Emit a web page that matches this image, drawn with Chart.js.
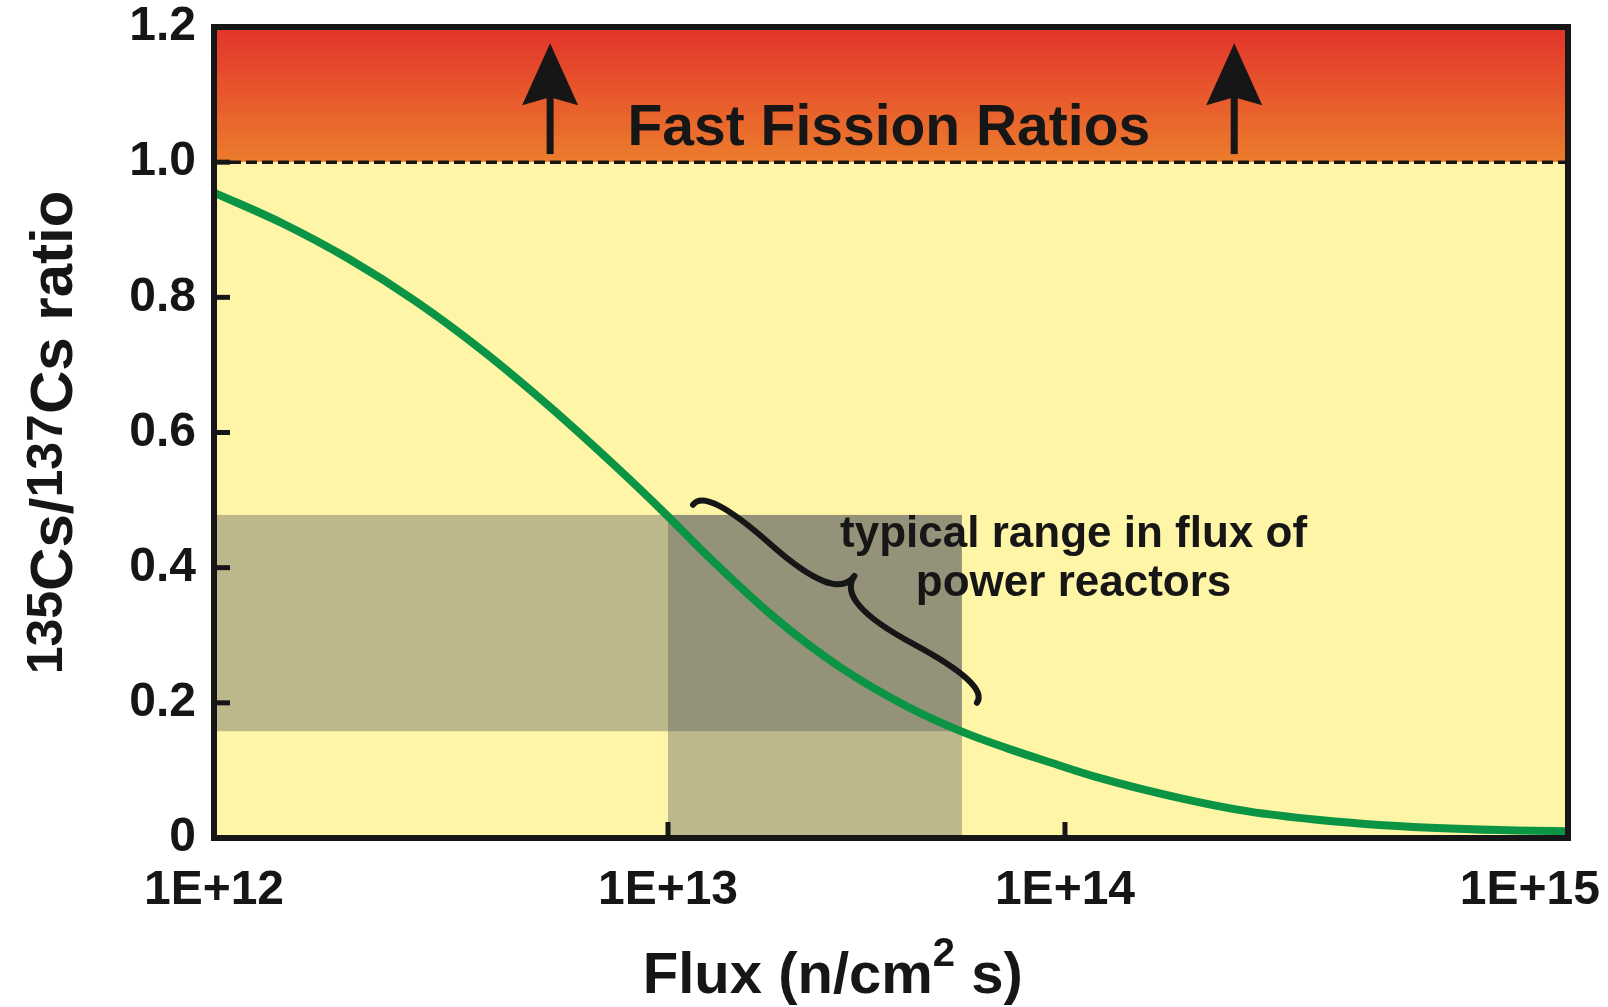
<!DOCTYPE html>
<html>
<head>
<meta charset="utf-8">
<title>135Cs/137Cs ratio vs flux</title>
<script src="https://cdn.jsdelivr.net/npm/chart.js@4.4.1/dist/chart.umd.min.js"></script>
<style>
  html, body { margin: 0; padding: 0; background: #fff; }
  canvas { display: block; }
</style>
</head>
<body>
<canvas id="fluxChart" width="1608" height="1007"></canvas>
<script>
// neutron flux (n/cm2 s) and the 135Cs/137Cs ratio along the curve
const flux = [
  1.0e12, 1.41e12, 1.98e12, 2.77e12, 3.89e12, 5.45e12, 7.64e12,
  1.0e13, 1.25e13, 1.84e13, 2.71e13, 3.99e13, 5.52e13, 7.13e13, 9.16e13,
  1.17e14, 1.72e14, 2.33e14, 3.17e14, 4.29e14, 5.82e14, 7.91e14, 1.0e15
];
const csRatio = [
  0.955, 0.910, 0.857, 0.795, 0.722, 0.640, 0.551,
  0.476, 0.419, 0.328, 0.253, 0.195, 0.157, 0.133, 0.112,
  0.089, 0.058, 0.039, 0.027, 0.019, 0.014, 0.011, 0.010
];

const fluxTicks = [1e12, 1e13, 1e14, 1e15];
const fluxTickLabels = ["1E+12", "1E+13", "1E+14", "1E+15"];
const ratioTicks = [0, 0.2, 0.4, 0.6, 0.8, 1.0, 1.2];

// flux range of power reactors and the ratios it gives
const reactorFlux = [1e13, 5.5e13];
const reactorRatio = [0.158, 0.478];
const fastFissionRatio = 1.0;

// annotation anchors (flux, ratio)
const arrowFlux = [5.5e12, 2.17e14];
const braceFlux = [1.156e13, 6.0e13];
const braceRatio = [0.493, 0.200];

// share of the axis width taken by each decade boundary
const decadeStops = [0, 0.3353, 0.6285, 1];

const FONT = '"Liberation Sans", Arial, sans-serif';
const INK = "#161616";

// log axis where each decade can have its own width
class WarpedLogScale extends Chart.LogarithmicScale {
  _frac(value) {
    const d = Math.log10(value) - Math.log10(this.min);
    const i = Math.min(Math.max(Math.floor(d), 0), decadeStops.length - 2);
    return decadeStops[i] + (d - i) * (decadeStops[i + 1] - decadeStops[i]);
  }
  getPixelForValue(value) {
    return this.left + this._frac(value) * this.width;
  }
  getValueForPixel(pixel) {
    const f = (pixel - this.left) / this.width;
    let i = 0;
    while (i < decadeStops.length - 2 && f > decadeStops[i + 1]) i++;
    const d = i + (f - decadeStops[i]) / (decadeStops[i + 1] - decadeStops[i]);
    return this.min * Math.pow(10, d);
  }
}
WarpedLogScale.id = "warpedLog";
WarpedLogScale.defaults = Chart.LogarithmicScale.defaults;
Chart.register(WarpedLogScale);

// text with superscript pieces, e.g. 135Cs or cm2
function richText(ctx, parts, x, y, size, supSize, rise) {
  const widths = parts.map(p => {
    ctx.font = `bold ${p.sup ? supSize : size}px ${FONT}`;
    return ctx.measureText(p.t).width;
  });
  let cx = x - widths.reduce((s, w) => s + w, 0) / 2;
  ctx.textAlign = "left";
  ctx.textBaseline = "alphabetic";
  parts.forEach((p, i) => {
    ctx.font = `bold ${p.sup ? supSize : size}px ${FONT}`;
    ctx.fillText(p.t, cx, p.sup ? y - rise : y);
    cx += widths[i];
  });
}

// curly brace from (x1,y1) to (x2,y2), tip pushed out by w
function drawBrace(ctx, x1, y1, x2, y2, w, q) {
  let dx = x1 - x2, dy = y1 - y2;
  const len = Math.hypot(dx, dy);
  dx /= len; dy /= len;
  const qx1 = x1 + q * w * dy, qy1 = y1 - q * w * dx;
  const qx2 = (x1 - 0.25 * len * dx) + (1 - q) * w * dy, qy2 = (y1 - 0.25 * len * dy) - (1 - q) * w * dx;
  const tx = (x1 - 0.5 * len * dx) + w * dy, ty = (y1 - 0.5 * len * dy) - w * dx;
  const qx3 = x2 + q * w * dy, qy3 = y2 - q * w * dx;
  const qx4 = (x1 - 0.75 * len * dx) + (1 - q) * w * dy, qy4 = (y1 - 0.75 * len * dy) - (1 - q) * w * dx;
  ctx.beginPath();
  ctx.moveTo(x1, y1);
  ctx.quadraticCurveTo(qx1, qy1, qx2, qy2);
  ctx.quadraticCurveTo(2 * qx2 - qx1, 2 * qy2 - qy1, tx, ty);
  ctx.moveTo(x2, y2);
  ctx.quadraticCurveTo(qx3, qy3, qx4, qy4);
  ctx.quadraticCurveTo(2 * qx4 - qx3, 2 * qy4 - qy3, tx, ty);
  ctx.stroke();
}

function drawArrow(ctx, px, baseY, tipY) {
  ctx.beginPath();
  ctx.moveTo(px, baseY);
  ctx.lineTo(px, tipY + 50);
  ctx.lineWidth = 7;
  ctx.stroke();
  ctx.beginPath();
  ctx.moveTo(px, tipY);
  ctx.lineTo(px + 28, tipY + 62);
  ctx.lineTo(px, tipY + 54);
  ctx.lineTo(px - 28, tipY + 62);
  ctx.closePath();
  ctx.fill();
}

const decorations = {
  id: "decorations",
  beforeDatasetsDraw(chart) {
    const { ctx, chartArea: a, scales: { x, y } } = chart;
    const y1 = y.getPixelForValue(fastFissionRatio);
    ctx.save();
    const g = ctx.createLinearGradient(0, a.top, 0, y1);
    g.addColorStop(0, "#e2332b");
    g.addColorStop(1, "#ec7d2d");
    ctx.fillStyle = g;
    ctx.fillRect(a.left, a.top, a.width, y1 - a.top);
    ctx.fillStyle = "#fff5a7";
    ctx.fillRect(a.left, y1, a.width, a.bottom - y1);

    // reactor flux bands, darker where they cross
    const fx0 = x.getPixelForValue(reactorFlux[0]);
    const fx1 = x.getPixelForValue(reactorFlux[1]);
    const ry0 = y.getPixelForValue(reactorRatio[0]);
    const ry1 = y.getPixelForValue(reactorRatio[1]);
    ctx.fillStyle = "rgba(88, 92, 98, 0.4)";
    ctx.fillRect(a.left, ry1, fx1 - a.left, ry0 - ry1);
    ctx.fillRect(fx0, ry1, fx1 - fx0, a.bottom - ry1);

    // fast fission threshold
    ctx.strokeStyle = INK;
    ctx.lineWidth = 3.5;
    ctx.setLineDash([11, 5]);
    ctx.beginPath();
    ctx.moveTo(a.left, y1);
    ctx.lineTo(a.right, y1);
    ctx.stroke();
    ctx.restore();
  },
  afterDatasetsDraw(chart) {
    const { ctx, chartArea: a, scales: { x, y } } = chart;
    ctx.save();
    ctx.strokeStyle = INK;
    ctx.fillStyle = INK;

    // frame and inward ticks
    ctx.lineWidth = 6;
    ctx.strokeRect(a.left, a.top, a.width, a.height);
    ctx.lineWidth = 5;
    ratioTicks.slice(1, -1).forEach(v => {
      const py = y.getPixelForValue(v);
      ctx.beginPath();
      ctx.moveTo(a.left, py);
      ctx.lineTo(a.left + 16, py);
      ctx.stroke();
    });
    fluxTicks.slice(1, -1).forEach(v => {
      const px = x.getPixelForValue(v);
      ctx.beginPath();
      ctx.moveTo(px, a.bottom);
      ctx.lineTo(px, a.bottom - 16);
      ctx.stroke();
    });

    // x tick labels, kept inside the canvas
    ctx.font = `bold 48px ${FONT}`;
    ctx.textAlign = "left";
    ctx.textBaseline = "alphabetic";
    fluxTicks.forEach((v, i) => {
      const w = ctx.measureText(fluxTickLabels[i]).width;
      let cx = x.getPixelForValue(v);
      cx = Math.min(Math.max(cx, w / 2 + 8), chart.width - w / 2 - 8);
      ctx.fillText(fluxTickLabels[i], cx - w / 2, a.bottom + 66);
    });

    // arrows into the fast fission zone
    const tipY = y.getPixelForValue(1.176);
    const baseY = y.getPixelForValue(1.012);
    arrowFlux.forEach(f => drawArrow(ctx, x.getPixelForValue(f), baseY, tipY));

    ctx.font = `bold 57px ${FONT}`;
    ctx.textAlign = "center";
    ctx.fillText("Fast Fission Ratios", x.getPixelForValue(3.6e13), y.getPixelForValue(1.025));

    // brace over the reactor range
    ctx.lineWidth = 6;
    ctx.lineCap = "round";
    ctx.lineJoin = "round";
    drawBrace(ctx,
      x.getPixelForValue(braceFlux[1]), y.getPixelForValue(braceRatio[1]),
      x.getPixelForValue(braceFlux[0]), y.getPixelForValue(braceRatio[0]),
      34, 0.65);

    ctx.font = `bold 44px ${FONT}`;
    const lx = x.getPixelForValue(1.04e14);
    ctx.fillText("typical range in flux of", lx, y.getPixelForValue(0.431));
    ctx.fillText("power reactors", lx, y.getPixelForValue(0.358));

    // axis titles
    richText(ctx, [{ t: "Flux (n/cm" }, { t: "2", sup: true }, { t: " s)" }],
      a.left + a.width * 0.457, 993, 58, 40, 27);

    ctx.translate(72, (a.top + a.bottom) / 2);
    ctx.rotate(-Math.PI / 2);
    richText(ctx, [{ t: "135", sup: true }, { t: "Cs/" }, { t: "137", sup: true }, { t: "Cs ratio" }],
      0, 0, 60, 50, 10);
    ctx.restore();
  }
};

new Chart(document.getElementById("fluxChart"), {
  type: "line",
  data: {
    datasets: [{
      label: "135Cs/137Cs",
      data: flux.map((f, i) => ({ x: f, y: csRatio[i] })),
      borderColor: "#0b9444",
      borderWidth: 8,
      pointRadius: 0,
      cubicInterpolationMode: "monotone",
      fill: false
    }]
  },
  options: {
    responsive: false,
    animation: false,
    layout: { padding: { top: 27, right: 40, left: 0, bottom: 0 } },
    plugins: { legend: { display: false }, tooltip: { enabled: false } },
    scales: {
      x: {
        type: "warpedLog",
        min: 1e12,
        max: 1e15,
        grid: { display: false, drawTicks: false },
        border: { display: false },
        ticks: { display: false },
        afterBuildTicks: s => { s.ticks = fluxTicks.map(v => ({ value: v })); },
        afterFit: s => { s.height = 169; s.paddingLeft = 0; s.paddingRight = 0; }
      },
      y: {
        type: "linear",
        min: 0,
        max: 1.2,
        grid: { display: false, drawTicks: false },
        border: { display: false },
        afterBuildTicks: s => { s.ticks = ratioTicks.map(v => ({ value: v })); },
        afterFit: s => { s.width = 214; s.paddingTop = 0; s.paddingBottom = 0; },
        ticks: {
          padding: 18,
          color: INK,
          font: { family: FONT, weight: "bold", size: 48 },
          callback: v => (v === 0 ? "0" : v.toFixed(1))
        }
      }
    }
  },
  plugins: [decorations]
});
</script>
</body>
</html>
